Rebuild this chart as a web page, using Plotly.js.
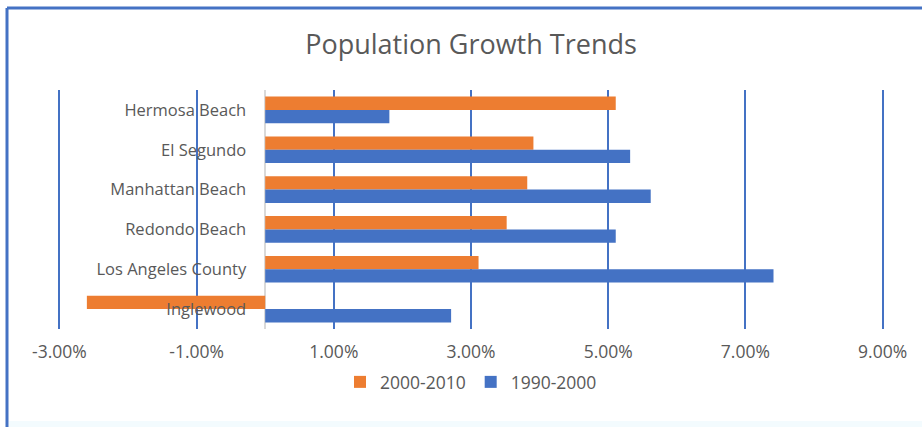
<!DOCTYPE html>
<html>
<head>
<meta charset="utf-8">
<script src="https://cdn.plot.ly/plotly-3.0.1.min.js"></script>
<style>
html,body{margin:0;padding:0;background:#fff;}
#chart{width:922px;height:427px;}
</style>
</head>
<body>
<div id="chart"></div>
<script>
const categories = ["Hermosa Beach", "El Segundo", "Manhattan Beach", "Redondo Beach", "Los Angeles County", "Inglewood"];
const growth2000_2010 = [5.11, 3.91, 3.82, 3.52, 3.11, -2.60];
const growth1990_2000 = [1.81, 5.32, 5.62, 5.11, 7.41, 2.71];
const seriesNames = ["2000-2010", "1990-2000"];
const xTickVals = [-3, -1, 1, 3, 5, 7, 9];
const xTickText = ["-3.00%", "-1.00%", "1.00%", "3.00%", "5.00%", "7.00%", "9.00%"];

const textColor = "#595959";
const font = "Open Sans, sans-serif";

const traces = [
  {type: "bar", orientation: "h", name: seriesNames[0], y: categories, x: growth2000_2010,
   marker: {color: "#ED7D31"}, hoverinfo: "x+y"},
  {type: "bar", orientation: "h", name: seriesNames[1], y: categories, x: growth1990_2000,
   marker: {color: "#4472C4"}, hoverinfo: "x+y"}
];

const W = 922, H = 427;
const L = 56, R = 886, T = 90, B = 329;
const xMin = -3.05, xMax = 9.05;

const layout = {
  width: W, height: H,
  paper_bgcolor: "#ffffff", plot_bgcolor: "#ffffff",
  margin: {l: L, r: W - R, t: T, b: H - B, pad: 0},
  font: {family: font, color: textColor, size: 16},
  title: {text: "Population Growth Trends", font: {family: font, size: 27, color: textColor},
          x: 0.5, xanchor: "center", xref: "paper", y: 1 - 45 / H, yanchor: "middle"},
  barmode: "group", bargap: 0.33, bargroupgap: 0,
  xaxis: {
    range: [xMin, xMax], tickvals: xTickVals, ticktext: xTickText,
    showgrid: true, gridcolor: "#4472C4", gridwidth: 2,
    zeroline: true, zerolinecolor: "#d9d9d9", zerolinewidth: 2,
    showline: false, ticks: "", ticklabelstandoff: 10,
    tickfont: {family: font, size: 17.5, color: textColor}, fixedrange: true
  },
  yaxis: {
    type: "category", autorange: "reversed",
    anchor: "free", position: (0 - xMin) / (xMax - xMin),
    showgrid: false, zeroline: false, showline: false, ticks: "",
    ticklabelstandoff: 19,
    tickfont: {family: font, size: 16.5, color: textColor}, fixedrange: true
  },
  showlegend: true,
  legend: {orientation: "h", x: 0.5, xanchor: "center", y: (B - 382) / (B - T), yanchor: "middle",
           font: {family: font, size: 17.5, color: textColor}, traceorder: "normal",
           itemclick: false, itemdoubleclick: false},
  shapes: [
    {type: "line", xref: "paper", yref: "paper",
     x0: (7 - L) / (R - L), x1: (W - L) / (R - L),
     y0: (B - 8) / (B - T), y1: (B - 8) / (B - T),
     line: {color: "#4472C4", width: 3}},
    {type: "line", xref: "paper", yref: "paper",
     x0: (7 - L) / (R - L), x1: (7 - L) / (R - L),
     y0: (B - 8) / (B - T), y1: (B - H) / (B - T),
     line: {color: "#4472C4", width: 3}},
    {type: "rect", xref: "paper", yref: "paper", layer: "below",
     x0: (9 - L) / (R - L), x1: (W - L) / (R - L),
     y0: (B - 421) / (B - T), y1: (B - H) / (B - T),
     line: {width: 0}, fillcolor: "#f3fbfe"}
  ]
};

Plotly.newPlot("chart", traces, layout, {displayModeBar: false});
</script>
</body>
</html>
